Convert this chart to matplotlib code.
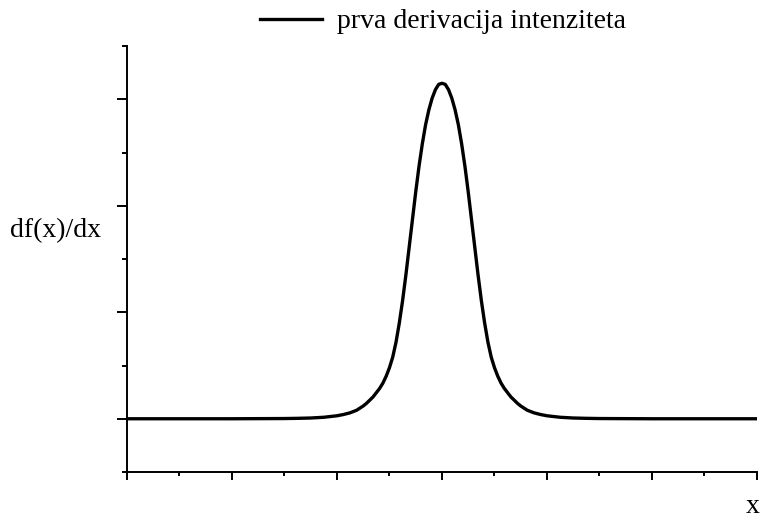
import matplotlib.pyplot as plt
from matplotlib.ticker import MultipleLocator

# pozicija (x) i prva derivacija intenziteta (df/dx), ocitano s krivulje
x = [-6.0, -5.0, -4.0, -3.5, -3.0, -2.75, -2.5, -2.25, -2.0, -1.875,
     -1.75, -1.625, -1.5, -1.4375, -1.375, -1.3125, -1.25, -1.1875, -1.125, -1.0625,
     -1.0, -0.9375, -0.875, -0.8125, -0.75, -0.6875, -0.625, -0.5625, -0.5, -0.4375,
     -0.375, -0.3125, -0.25, -0.1875, -0.125, -0.0625, 0.0,
     0.0625, 0.125, 0.1875, 0.25, 0.3125, 0.375, 0.4375, 0.5, 0.5625, 0.625,
     0.6875, 0.75, 0.8125, 0.875, 0.9375, 1.0, 1.0625, 1.125, 1.1875, 1.25,
     1.3125, 1.375, 1.4375, 1.5, 1.625, 1.75, 1.875, 2.0, 2.25, 2.5,
     2.75, 3.0, 3.5, 4.0, 5.0, 6.0]
dfdx = [0.0, 0.0, 0.0, 0.001, 0.002, 0.004, 0.007, 0.014, 0.028, 0.04,
        0.056, 0.08, 0.12, 0.145, 0.175, 0.205, 0.245, 0.285, 0.335, 0.40,
        0.48, 0.58, 0.72, 0.90, 1.11, 1.35, 1.61, 1.87, 2.13, 2.37,
        2.58, 2.76, 2.90, 3.01, 3.09, 3.14, 3.15,
        3.14, 3.09, 3.01, 2.90, 2.76, 2.58, 2.37, 2.13, 1.87, 1.61,
        1.35, 1.11, 0.90, 0.72, 0.58, 0.48, 0.40, 0.335, 0.285, 0.245,
        0.205, 0.175, 0.145, 0.12, 0.08, 0.056, 0.04, 0.028, 0.014, 0.007,
        0.004, 0.002, 0.001, 0.0, 0.0, 0.0]

plt.rcParams['font.family'] = ['Liberation Serif', 'DejaVu Serif']

fig = plt.figure(figsize=(7.64, 5.2), dpi=100)
ax = fig.add_axes([0.1662, 0.0923, 0.8246, 0.8192])

ax.plot(x, dfdx, color='black', lw=2.4, label='prva derivacija intenziteta',
        solid_joinstyle='round')

ax.set_xlim(-6, 6)
ax.set_ylim(-0.5, 3.5)

# samo lijeva i donja os, bez brojeva
for side in ['top', 'right']:
    ax.spines[side].set_visible(False)
for side in ['left', 'bottom']:
    ax.spines[side].set_linewidth(1.4)

ax.xaxis.set_major_locator(MultipleLocator(2))
ax.xaxis.set_minor_locator(MultipleLocator(1))
ax.yaxis.set_major_locator(MultipleLocator(1))
ax.yaxis.set_minor_locator(MultipleLocator(0.5))
ax.tick_params(which='both', direction='out', labelbottom=False, labelleft=False, width=1.4)
ax.tick_params(axis='x', which='major', length=5.5)
ax.tick_params(axis='x', which='minor', length=3.2)
ax.tick_params(axis='y', which='major', length=7)
ax.tick_params(axis='y', which='minor', length=3.6)

ax.set_ylabel('df(x)/dx', rotation=0, fontsize=20, ha='left', va='baseline')
ax.yaxis.set_label_coords(-0.186, 0.552)
ax.set_xlabel('x', fontsize=20, ha='right', va='bottom')
ax.xaxis.set_label_coords(1.005, -0.1105)

ax.legend(loc='center', bbox_to_anchor=(0.502, 1.057), frameon=False,
          fontsize=20, handlelength=2.23, handletextpad=0.54)

fig.savefig('out.png', dpi=100)
